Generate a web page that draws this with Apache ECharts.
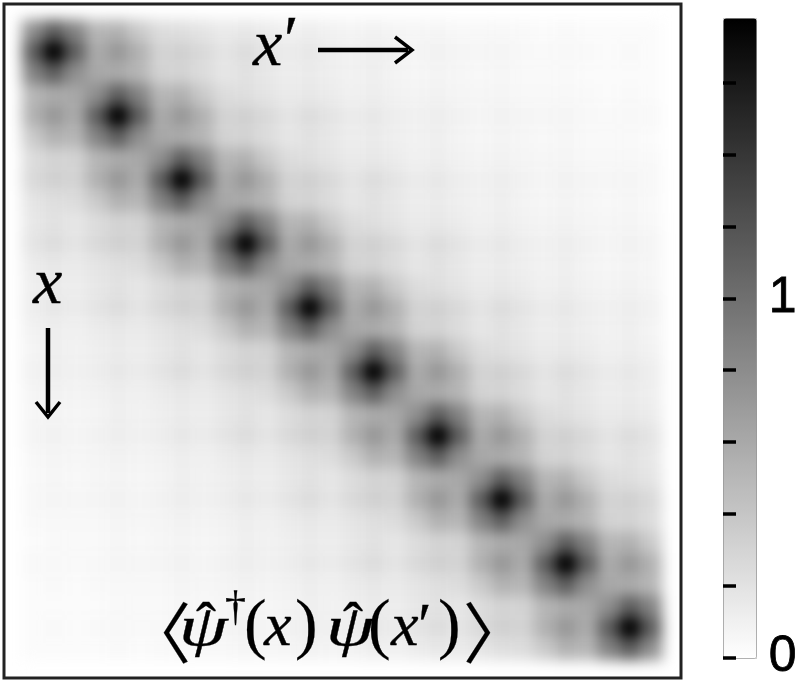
<!DOCTYPE html>
<html><head><meta charset="utf-8">
<style>html,body{margin:0;padding:0;background:#fff}#c{width:800px;height:683px}
#c canvas[data-zr-dom-id="zr_0"]{filter:blur(7px)}</style>
<script src="https://cdn.jsdelivr.net/npm/echarts@6/dist/echarts.min.js"></script>
</head><body><div id="c"></div>
<script>
// Correlation, in hundredths; three sub-samples per site, ten sites.
const densityRows = [
[78,112,86,50,54,36,24,22,18,14,16,13,10,12,9,8,9,7,6,7,5,5,5,4,3,4,3,3,3,3],
[112,178,112,58,72,54,30,32,26,18,24,18,13,16,12,10,12,9,7,9,7,6,7,5,4,5,4,3,4,3],
[86,112,78,60,58,50,30,30,24,17,20,16,12,14,11,9,11,8,6,8,6,5,6,4,4,4,3,3,3,3],
[50,58,60,78,112,86,50,54,36,24,22,18,14,16,13,10,12,9,8,9,7,6,7,5,5,5,4,3,4,3],
[54,72,58,112,178,112,58,72,54,30,32,26,18,24,18,13,16,12,10,12,9,7,9,7,6,7,5,4,5,4],
[36,54,50,86,112,78,60,58,50,30,30,24,17,20,16,12,14,11,9,11,8,6,8,6,5,6,4,4,4,3],
[24,30,30,50,58,60,78,112,86,50,54,36,24,22,18,14,16,13,10,12,9,8,9,7,6,7,5,5,5,4],
[26,32,30,54,72,58,112,178,112,58,72,54,30,32,26,18,24,18,13,16,12,10,12,9,7,9,7,6,7,5],
[18,22,24,36,54,50,86,112,78,60,58,50,30,30,24,17,20,16,12,14,11,9,11,8,6,8,6,5,6,4],
[16,20,17,24,30,30,50,58,60,78,112,86,50,54,36,24,22,18,14,16,13,10,12,9,8,9,7,6,7,5],
[18,24,18,26,32,30,54,72,58,112,178,112,58,72,54,30,32,26,18,24,18,13,16,12,10,12,9,7,9,7],
[13,16,14,18,22,24,36,54,50,86,112,78,60,58,50,30,30,24,17,20,16,12,14,11,9,11,8,6,8,6],
[11,14,12,16,20,17,24,30,30,50,58,60,78,112,86,50,54,36,24,22,18,14,16,13,10,12,9,8,9,7],
[12,16,13,18,24,18,26,32,30,54,72,58,112,178,112,58,72,54,30,32,26,18,24,18,13,16,12,10,12,9],
[9,12,10,13,16,14,18,22,24,36,54,50,86,112,78,60,58,50,30,30,24,17,20,16,12,14,11,9,11,8],
[8,11,9,11,14,12,16,20,17,24,30,30,50,58,60,78,112,86,50,54,36,24,22,18,14,16,13,10,12,9],
[9,12,10,12,16,13,18,24,18,26,32,30,54,72,58,112,178,112,58,72,54,30,32,26,18,24,18,13,16,12],
[7,9,8,9,12,10,13,16,14,18,22,24,36,54,50,86,112,78,60,58,50,30,30,24,17,20,16,12,14,11],
[6,8,6,8,11,9,11,14,12,16,20,17,24,30,30,50,58,60,78,112,86,50,54,36,24,22,18,14,16,13],
[7,9,7,9,12,10,12,16,13,18,24,18,26,32,30,54,72,58,112,178,112,58,72,54,30,32,26,18,24,18],
[5,7,6,7,9,8,9,12,10,13,16,14,18,22,24,36,54,50,86,112,78,60,58,50,30,30,24,17,20,16],
[4,6,5,6,8,6,8,11,9,11,14,12,16,20,17,24,30,30,50,58,60,78,112,86,50,54,36,24,22,18],
[5,7,6,7,9,7,9,12,10,12,16,13,18,24,18,26,32,30,54,72,58,112,178,112,58,72,54,30,32,26],
[4,5,5,5,7,6,7,9,8,9,12,10,13,16,14,18,22,24,36,54,50,86,112,78,60,58,50,30,30,24],
[3,4,4,4,6,5,6,8,6,8,11,9,11,14,12,16,20,17,24,30,30,50,58,60,78,112,86,50,54,36],
[4,5,4,5,7,6,7,9,7,9,12,10,12,16,13,18,24,18,26,32,30,54,72,58,112,178,112,58,72,54],
[3,4,3,4,5,5,5,7,6,7,9,8,9,12,10,13,16,14,18,22,24,36,54,50,86,112,78,60,58,50],
[3,3,3,3,4,4,4,6,5,6,8,6,8,11,9,11,14,12,16,20,17,24,30,30,50,58,60,78,112,86],
[3,4,3,4,5,4,5,7,6,7,9,7,9,12,10,12,16,13,18,24,18,26,32,30,54,72,58,112,178,112],
[3,3,3,3,4,3,4,5,5,5,7,6,7,9,8,9,12,10,13,16,14,18,22,24,36,54,50,86,112,78]
];
const colorbarMax = 1.78;
const colorbarTicks = [0, 0.2, 0.4, 0.6, 0.8, 1, 1.2, 1.4, 1.6];
const colorbarLabels = [0, 1];

const subSamples = densityRows.map((_, i) => i);
const cells = [];
densityRows.forEach((row, y) => row.forEach((v, x) => cells.push([x, y, v / 100])));

const serif = '"Liberation Serif","DejaVu Serif",serif';
// x: left edge, base: baseline
const T = (text, x, base, size, style, bold, family, scaleX) => ({
  type: 'text', zlevel: 1, x, y: base - size * 0.78, scaleX: scaleX || 1,
  style: { text, fontFamily: family || serif, fontSize: size, fontStyle: style || 'italic', fill: '#000',
           stroke: '#000', lineWidth: bold === undefined ? 0.4 : bold }
});
const L = (points, w) => ({
  type: 'polyline', zlevel: 1, shape: { points },
  style: { stroke: '#000', lineWidth: w, fill: null, lineJoin: 'miter' }
});

const chart = echarts.init(document.getElementById('c'), null, { renderer: 'canvas' });
chart.setOption({
  animation: false,
  backgroundColor: 'transparent',
  grid: [
    { left: 22, top: 20, width: 640, height: 640, show: false },
    { left: 723, top: 18, width: 30, height: 640, show: false }
  ],
  xAxis: [
    { type: 'category', gridIndex: 0, data: subSamples, show: false },
    { type: 'value', gridIndex: 1, show: false, min: 0, max: 1 }
  ],
  yAxis: [
    { type: 'category', gridIndex: 0, data: subSamples, inverse: true, show: false },
    { type: 'value', gridIndex: 1, position: 'right', min: 0, max: colorbarMax, zlevel: 2,
      splitLine: { show: false }, axisLine: { show: false },
      axisTick: { show: true, length: 13, customValues: colorbarTicks, lineStyle: { color: '#000', width: 3.5 } },
      axisLabel: { show: true, customValues: colorbarLabels, margin: 19, color: '#000',
        fontFamily: '"Liberation Sans",Arial,sans-serif', fontSize: 50,
        textBorderColor: '#000', textBorderWidth: 0.8,
        formatter: v => String(Math.round(v)) } }
  ],
  visualMap: {
    type: 'continuous', min: 0, max: colorbarMax, seriesIndex: 0, zlevel: 1,
    left: 723, top: 18, itemWidth: 33, itemHeight: 640, padding: 0,
    borderColor: 'rgba(120,120,120,0.4)', borderWidth: 1,
    calculable: false, realtime: false, text: ['', ''], showLabel: false,
    inRange: { color: ['#ffffff', '#000000'] }, outOfRange: { color: '#000' }
  },
  series: [{
    type: 'heatmap', xAxisIndex: 0, yAxisIndex: 0, data: cells, zlevel: 0,
    progressive: 0, itemStyle: { borderWidth: 0 }, emphasis: { disabled: true }, silent: true
  }],
  graphic: { elements: [
    { type: 'rect', zlevel: 1, shape: { x: 4, y: 4, width: 677, height: 674 },
      style: { stroke: '#222', lineWidth: 3, fill: null } },
    T('x', 253, 66, 66), T('′', 284, 62, 66, 'normal', 0.4),
    L([[318, 50], [408, 50]], 4.5), L([[395, 37], [412, 50], [395, 63]], 3.5),
    T('x', 33, 304, 66),
    L([[48, 328], [48, 413]], 4.5), L([[36, 402], [48, 417], [60, 402]], 3.5),
    T('〈', 125, 651, 66, 'normal', 0.2, '"Noto Sans CJK SC"'),
    T('ψ', 179, 646, 58, 'italic', 0.3, serif, 1.35), T('ˆ', 196, 644, 60, 'normal', 0.3), T('†', 225, 621, 42, 'normal', 0.3),
    T('(', 244, 647, 68, 'normal', 0.2), T('x', 264, 646, 62), T(')', 295, 647, 68, 'normal', 0.2),
    T('ψ', 326, 646, 58, 'italic', 0.3, serif, 1.35), T('ˆ', 343, 644, 60, 'normal', 0.3),
    T('(', 368, 647, 68, 'normal', 0.2), T('x', 391, 646, 62), T('′', 418, 646, 62, 'normal', 0.3),
    T(')', 438, 647, 68, 'normal', 0.2), T('〉', 463, 651, 66, 'normal', 0.2, '"Noto Sans CJK SC"')
  ] }
});
</script></body></html>
